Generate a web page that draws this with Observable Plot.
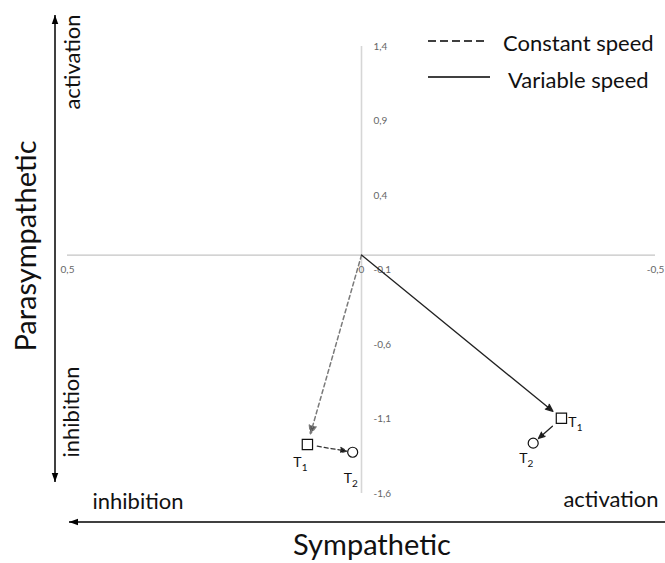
<!DOCTYPE html>
<html>
<head>
<meta charset="utf-8">
<script src="https://cdn.jsdelivr.net/npm/d3@7"></script>
<script src="https://cdn.jsdelivr.net/npm/@observablehq/plot@0.6"></script>
<style>
  html, body { margin: 0; padding: 0; background: #fff; }
  #chart { width: 665px; height: 563px; }
  svg { display: block; }
</style>
</head>
<body>
<div id="chart"></div>
<script>
// ---- data ----
const series = ["Constant speed", "Variable speed"];
const origin = [0, 0];
const t1x = [0.092, -0.340];
const t1y = [-1.271, -1.095];
const t2x = [0.015, -0.292];
const t2y = [-1.323, -1.262];
const timeLabels = ["T1", "T2"];
const yTicks = [1.4, 0.9, 0.4, -0.1, -0.6, -1.1, -1.6];
const xTicks = [0.5, 0, -0.5];

// ---- table built from arrays ----
const rows = series.map((s, i) => ({
  series: s, ox: origin[0], oy: origin[1],
  t1x: t1x[i], t1y: t1y[i], t2x: t2x[i], t2y: t2y[i]
}));
const cRow = rows.filter(d => d.series === series[0]);
const vRow = rows.filter(d => d.series === series[1]);
const fmt = d => String(d).replace(".", ",");
const FONT = "Lato, 'Open Sans', sans-serif";

function tLabel(data, xk, yk, label, dx, dy) {
  return Plot.text(data, {x: xk, y: yk, text: () => label, dx, dy,
    fontSize: 14, fill: "#111", className: "tlabel"});
}

const plot = Plot.plot({
  width: 665, height: 563,
  marginLeft: 67, marginRight: 10, marginTop: 46, marginBottom: 70,
  x: {domain: [0.5, -0.5], axis: null},
  y: {domain: [-1.6, 1.4], axis: null},
  style: {fontFamily: FONT, background: "white", overflow: "visible"},
  marks: [
    Plot.ruleY([0], {stroke: "#c4c4c4", strokeWidth: 1.2}),
    Plot.ruleX([0], {stroke: "#d6d6d6", strokeWidth: 1.6}),
    Plot.text(yTicks, {x: 0, y: d => d, text: fmt, dx: 12, textAnchor: "start",
      fontSize: 10, fill: "#666"}),
    Plot.text(xTicks, {x: d => d, y: 0, text: fmt, dy: 15,
      fontSize: 10, fill: "#666"}),
    // constant speed
    Plot.arrow(cRow, {x1: "ox", y1: "oy", x2: "t1x", y2: "t1y",
      stroke: "#7a7a7a", fill: "#555", strokeDasharray: "4,3", strokeWidth: 1.5,
      insetEnd: 11, headLength: 9, headAngle: 45}),
    Plot.arrow(cRow, {x1: "t1x", y1: "t1y", x2: "t2x", y2: "t2y",
      stroke: "#333", fill: "#111", strokeDasharray: "4,3", strokeWidth: 1.3,
      insetStart: 10, insetEnd: 6, headLength: 8, headAngle: 45}),
    // variable speed
    Plot.arrow(vRow, {x1: "ox", y1: "oy", x2: "t1x", y2: "t1y",
      stroke: "#222", fill: "#111", strokeWidth: 1.3,
      insetEnd: 11, headLength: 9, headAngle: 45}),
    Plot.arrow(vRow, {x1: "t1x", y1: "t1y", x2: "t2x", y2: "t2y",
      stroke: "#222", fill: "#111", strokeWidth: 1.3,
      insetStart: 12, insetEnd: 7, headLength: 8, headAngle: 45}),
    // time points
    Plot.dot(rows, {x: "t1x", y: "t1y", symbol: "square", r: 5.8,
      stroke: "#111", fill: "white", strokeWidth: 1.2}),
    Plot.dot(rows, {x: "t2x", y: "t2y", symbol: "circle", r: 5,
      stroke: "#111", fill: "white", strokeWidth: 1.2}),
    tLabel(cRow, "t1x", "t1y", timeLabels[0], -7, 18),
    tLabel(cRow, "t2x", "t2y", timeLabels[1], -2, 26),
    tLabel(vRow, "t1x", "t1y", timeLabels[0], 14, 4),
    tLabel(vRow, "t2x", "t2y", timeLabels[1], -7, 15)
  ]
});

document.getElementById("chart").appendChild(plot);

// subscripts for T labels
const svg = d3.select(plot);
svg.selectAll("g.tlabel text").each(function () {
  const t = this.textContent;
  const el = d3.select(this);
  el.text(null);
  el.append("tspan").text(t.slice(0, 1));
  el.append("tspan").attr("font-size", 10).attr("dy", 4).text(t.slice(1));
});

// decorations: outer axis arrows and titles
const defs = svg.append("defs");
defs.append("marker").attr("id", "tri")
  .attr("viewBox", "0 -5 10 10").attr("refX", 10).attr("refY", 0)
  .attr("markerWidth", 9).attr("markerHeight", 9)
  .attr("markerUnits", "userSpaceOnUse").attr("orient", "auto-start-reverse")
  .append("path").attr("d", "M0,-3.6L10,0L0,3.6Z").attr("fill", "#000");

const deco = svg.append("g").attr("font-family", FONT).attr("fill", "#111");
deco.append("line").attr("x1", 55).attr("y1", 15).attr("x2", 55).attr("y2", 482)
  .attr("stroke", "#000").attr("stroke-width", 1.5)
  .attr("marker-start", "url(#tri)").attr("marker-end", "url(#tri)");
deco.append("line").attr("x1", 665).attr("y1", 522).attr("x2", 69).attr("y2", 522)
  .attr("stroke", "#000").attr("stroke-width", 1.5)
  .attr("marker-end", "url(#tri)");

deco.append("text").attr("transform", "translate(80,62) rotate(-90)")
  .attr("text-anchor", "middle").attr("font-size", 22).text("activation");
deco.append("text").attr("transform", "translate(79,412) rotate(-90)")
  .attr("text-anchor", "middle").attr("font-size", 22).text("inhibition");
deco.append("text").attr("transform", "translate(36,246) rotate(-90)")
  .attr("text-anchor", "middle").attr("font-size", 29).text("Parasympathetic");
deco.append("text").attr("x", 138).attr("y", 509)
  .attr("text-anchor", "middle").attr("font-size", 22).text("inhibition");
deco.append("text").attr("x", 611).attr("y", 507)
  .attr("text-anchor", "middle").attr("font-size", 22).text("activation");
deco.append("text").attr("x", 372).attr("y", 555)
  .attr("text-anchor", "middle").attr("font-size", 29).text("Sympathetic");

// legend
const leg = svg.append("g").attr("font-family", FONT).attr("fill", "#111")
  .attr("font-size", 22).attr("text-anchor", "start");
leg.append("line").attr("x1", 428).attr("x2", 487).attr("y1", 41).attr("y2", 41)
  .attr("stroke", "#000").attr("stroke-width", 1.5).attr("stroke-dasharray", "8,4");
leg.append("text").attr("x", 503).attr("y", 51).text(series[0]);
leg.append("line").attr("x1", 428).attr("x2", 490).attr("y1", 77).attr("y2", 77)
  .attr("stroke", "#000").attr("stroke-width", 1.5);
leg.append("text").attr("x", 508).attr("y", 88).text(series[1]);
</script>
</body>
</html>
